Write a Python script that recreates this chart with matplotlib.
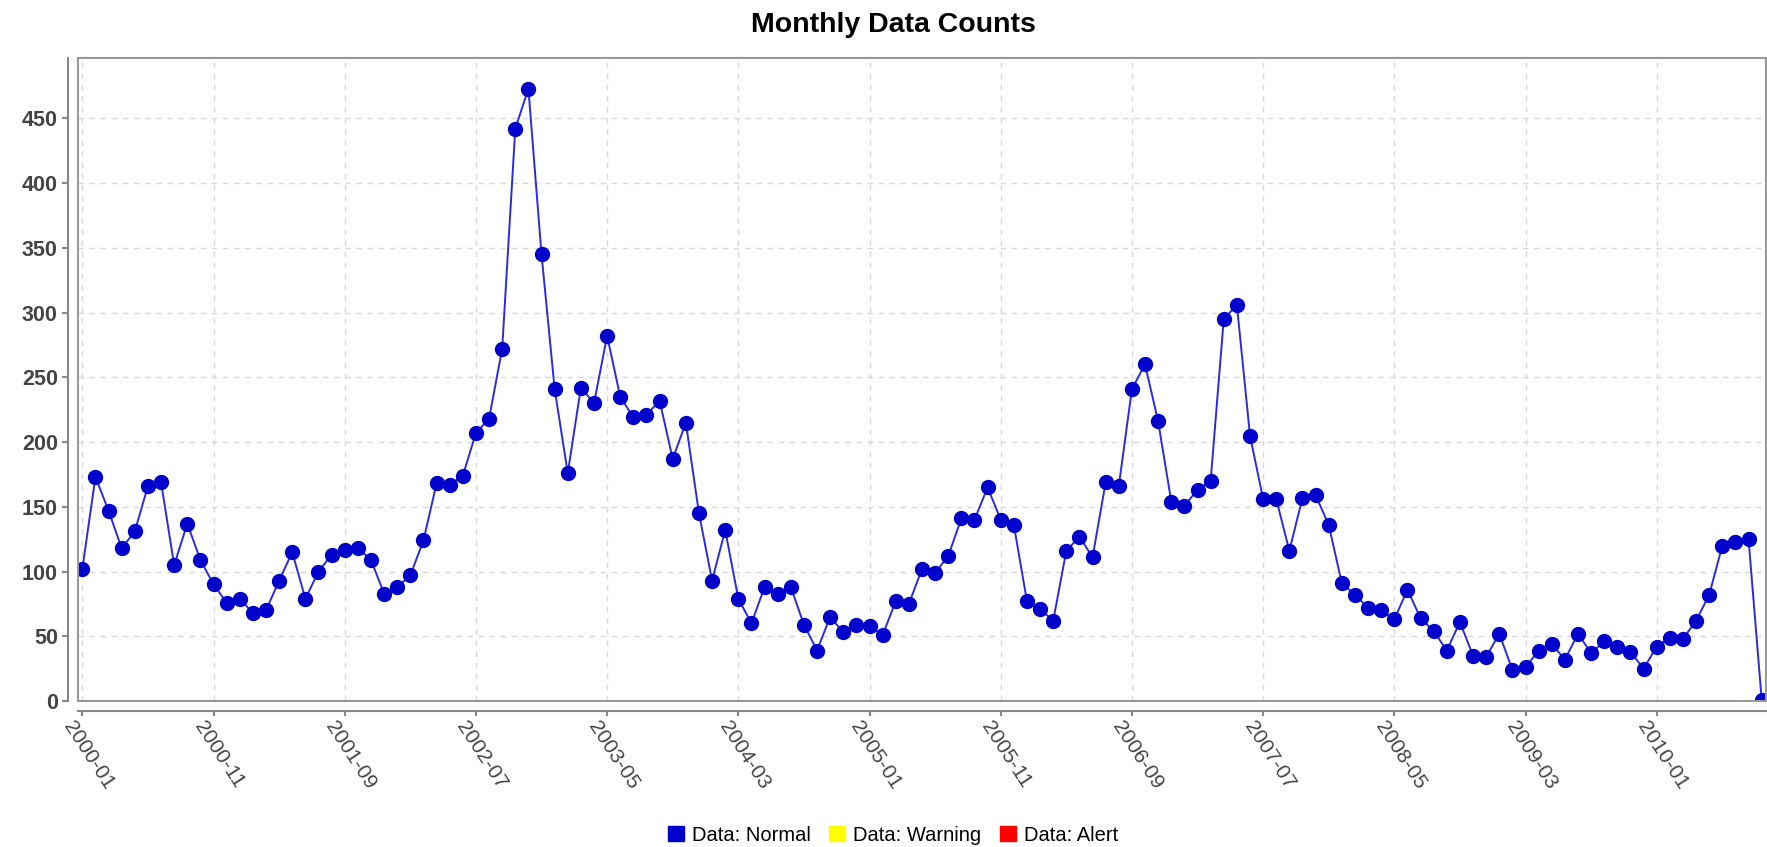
import matplotlib
matplotlib.use("Agg")
import matplotlib.pyplot as plt
from matplotlib.patches import Patch, Rectangle
from matplotlib.transforms import ScaledTranslation

# monthly counts, 2000-01 .. 2010-09
counts = [
    102, 173, 147, 118, 131, 166, 169, 105, 137, 109,
    90, 76, 79, 68, 70, 93, 115, 79, 100, 113,
    117, 118, 109, 83, 88, 97, 124, 168, 167, 174,
    207, 218, 272, 442, 473, 345, 241, 176, 242, 230,
    282, 235, 219, 221, 232, 187, 215, 145, 93, 132,
    79, 60, 88, 83, 88, 59, 39, 65, 53, 59,
    58, 51, 77, 75, 102, 99, 112, 141, 140, 165,
    140, 136, 77, 71, 62, 116, 127, 111, 169, 166,
    241, 260, 216, 154, 151, 163, 170, 295, 306, 205,
    156, 156, 116, 157, 159, 136, 91, 82, 72, 70,
    63, 86, 64, 54, 39, 61, 35, 34, 52, 24,
    26, 39, 44, 32, 52, 37, 46, 42, 38, 25,
    42, 49, 48, 62, 82, 120, 123, 125, 1,
]
tick_labels = ['2000-01', '2000-11', '2001-09', '2002-07', '2003-05', '2004-03', '2005-01',
               '2005-11', '2006-09', '2007-07', '2008-05', '2009-03', '2010-01']
legend_labels = ['Data: Normal', 'Data: Warning', 'Data: Alert']
legend_colors = ['#0000cc', '#ffff00', '#ff0000']

plt.rcParams['font.family'] = ['Liberation Sans', 'DejaVu Sans']

W, H = 1767, 847
fig = plt.figure(figsize=(W / 100, H / 100), dpi=100)
ax = fig.add_axes([78 / W, 1 - 701 / H, (1766 - 78) / W, (701 - 58) / H])

# axis lines sit a little away from the plot box (spine moves reset the ticks, so do it first)
for side in ['top', 'right']:
    ax.spines[side].set_visible(False)
ax.spines['left'].set_position(('outward', 7.5))
ax.spines['bottom'].set_position(('outward', 7))
for side in ['left', 'bottom']:
    ax.spines[side].set_color('#888888')
    ax.spines[side].set_linewidth(1.5)

x = list(range(len(counts)))
ax.plot(x, counts, color='#2a2ae0', linewidth=1.4, marker='o', markersize=10,
        markerfacecolor='#0000cc', markeredgecolor='#0000cc', zorder=3)

ax.set_xlim(-0.33, len(counts) - 1 + 0.33)
ax.set_ylim(0, max(counts) * 1.05)

ax.grid(True, color='#d8d8d8', linestyle=(0, (4, 4)), linewidth=1)
ax.set_axisbelow(True)

ax.set_yticks(range(0, 451, 50))
ax.set_xticks(range(0, 10 * len(tick_labels), 10))
ax.set_xticklabels(tick_labels)

ax.tick_params(axis='y', labelsize=15.5, colors='#888888', labelcolor='#444444',
               length=4, width=1.5, pad=3)
ax.tick_params(axis='x', labelsize=15, colors='#888888', labelcolor='#444444',
               length=3.5, width=1.5, pad=5)
plt.setp(ax.get_yticklabels(), fontweight='bold')
shift = ScaledTranslation(-0.15, 0, fig.dpi_scale_trans)
for lbl in ax.get_xticklabels():
    lbl.set_rotation(-57)
    lbl.set_rotation_mode('anchor')
    lbl.set_ha('left')
    lbl.set_va('center')
    lbl.set_transform(lbl.get_transform() + shift)

# plot outline box
ax.add_patch(Rectangle((0, 0), 1, 1, transform=ax.transAxes, fill=False,
                       edgecolor='#999999', linewidth=1.5, clip_on=False, zorder=4))

fig.text(893 / W, 1 - 31.5 / H, 'Monthly Data Counts', ha='center', va='baseline',
         fontsize=20.5, fontweight='bold')

handles = [Patch(facecolor=c, edgecolor=c) for c in legend_colors]
fig.legend(handles, legend_labels, loc='center', bbox_to_anchor=(893 / W, 1 - 835 / H),
           ncol=3, frameon=False, fontsize=14.5, handlelength=0.8, handleheight=0.8,
           handletextpad=0.4, columnspacing=0.9)

fig.savefig('out.png', dpi=100)
